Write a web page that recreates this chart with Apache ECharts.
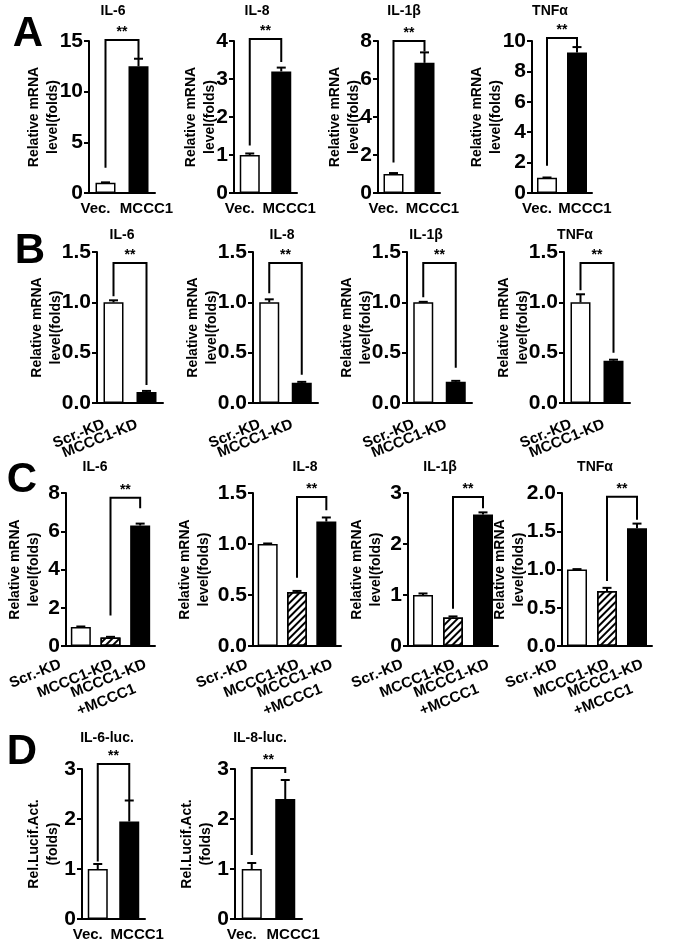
<!DOCTYPE html>
<html><head><meta charset="utf-8">
<script src="https://cdn.jsdelivr.net/npm/echarts@6/dist/echarts.min.js"></script>
<style>html,body{margin:0;padding:0;background:#fff}#c{width:685px;height:942px}</style>
</head><body><div id="c"></div>
<script>
// ---------------- DATA ----------------
const cytokines = ['IL-6', 'IL-8', 'IL-1β', 'TNFα'];
const lucTitles = ['IL-6-luc.', 'IL-8-luc.'];
const panelLetters = ['A', 'B', 'C', 'D'];
const mrnaName = 'Relative mRNA\nlevel(folds)';
const lucName = 'Rel.Lucif.Act.\n(folds)';
const sigText = '**';

const aCategories = ['Vec.', 'MCCC1'];
const aMeans = [[1, 12.5], [1, 3.2], [1, 6.85], [1, 9.25]];
const aErrors = [[0.05, 0.75], [0.04, 0.1], [0.05, 0.55], [0.02, 0.35]];
const aYMax = [15, 4, 8, 10];
const aYStep = [5, 1, 2, 2];
const aBrackets = [[15.1, 2.5, 13.2], [4.05, 1.25, 3.45], [8.0, 1.6, 7.45], [10.2, 1.8, 9.6]];

const bCategories = ['Scr.-KD', 'MCCC1-KD'];
const bMeans = [[1, 0.11], [1, 0.2], [1, 0.21], [1, 0.42]];
const bErrors = [[0.02, 0.01], [0.03, 0.01], [0.005, 0.01], [0.08, 0.01]];
const bYMax = [1.5, 1.5, 1.5, 1.5];
const bYStep = [0.5, 0.5, 0.5, 0.5];
const bBrackets = [[1.39, 1.06, 0.18], [1.39, 1.09, 0.28], [1.39, 1.05, 0.35], [1.39, 1.12, 0.5]];

const cCategories = ['Scr.-KD', 'MCCC1-KD', 'MCCC1-KD\n+MCCC1'];
const cMeans = [[1, 0.45, 6.3], [1, 0.53, 1.22], [1, 0.56, 2.58], [1, 0.72, 1.54]];
const cErrors = [[0.02, 0.03, 0.1], [0.005, 0.01, 0.04], [0.03, 0.02, 0.04], [0.005, 0.04, 0.06]];
const cYMax = [8, 1.5, 3, 2];
const cYStep = [2, 0.5, 1, 0.5];
const cBrackets = [[7.75, 1.6, 7.2], [1.46, 0.67, 1.33], [2.92, 0.73, 2.7], [1.95, 0.85, 1.65]];

const dCategories = ['Vec.', 'MCCC1'];
const dMeans = [[1, 1.95], [1, 2.4]];
const dErrors = [[0.1, 0.42], [0.12, 0.38]];
const dYMax = [3, 3];
const dYStep = [1, 1];
const dBrackets = [[3.1, 1.15, 2.38], [3.02, 1.28, 2.92]];

// ---------------- LAYOUT / STYLE ----------------
const FONT = "'Liberation Sans', Arial, Helvetica, sans-serif";
const ROT = 22 * Math.PI / 180;
const rows = [
  { titles: cytokines, cats: aCategories, means: aMeans, errs: aErrors, ymax: aYMax, ystep: aYStep, br: aBrackets, pair: [0, 1], name: mrnaName, gapAdd: [3, 3, 3, 3],
    top: 41, height: 152, lefts: [89, 234, 378, 532], widths: [66, 63, 62, 60], titleY: 11, titleX: [113, 257, 404, 550], letter: [28, 34], labelMode: 'flat' },
  { titles: cytokines, cats: bCategories, means: bMeans, errs: bErrors, ymax: bYMax, ystep: bYStep, br: bBrackets, pair: [0, 1], name: mrnaName, gapAdd: [2, 2, 2, 2],
    top: 252, height: 151, lefts: [97, 253, 407, 564], widths: [66, 65, 65, 66], titleY: 235, titleX: [122, 282, 426, 575], letter: [30, 251], labelMode: 'rot', ldx: [-13, -13], ldy: 12 },
  { titles: cytokines, cats: cCategories, means: cMeans, errs: cErrors, ymax: cYMax, ystep: cYStep, br: cBrackets, pair: [1, 2], name: mrnaName, gapAdd: [11, 10, 11, 4],
    top: 493, height: 153, lefts: [66, 253, 408, 562], widths: [89, 88, 90, 90], titleY: 467, titleX: [95, 305, 440, 595], letter: [22, 480], labelMode: 'rot', ldx: [-24, -2, 2], ldy: 9 },
  { titles: lucTitles, cats: dCategories, means: dMeans, errs: dErrors, ymax: dYMax, ystep: dYStep, br: dBrackets, pair: [0, 1], name: lucName, gapAdd: [8, 8],
    top: 769, height: 150, lefts: [82, 235], widths: [63, 67], titleY: 738, titleX: [107, 260], letter: [22, 752], labelMode: 'flat' }
];

const measureCtx = document.createElement('canvas').getContext('2d');
function textW(t, font) { measureCtx.font = font; return measureCtx.measureText(t).width; }
const tickFont = 'bold 21px ' + FONT;
const catFont = 'bold 15px ' + FONT;

const grid = [], xAxis = [], yAxis = [], series = [], graphic = [];
const rotLabelJobs = [];

function barStyle(nCats, j) {
  if (j === nCats - 1) return { color: '#000', borderColor: '#000', borderWidth: 1.5 };
  if (nCats === 3 && j === 1) return {
    color: '#fff', borderColor: '#000', borderWidth: 1.5,
    decal: { symbol: 'rect', symbolSize: 1, color: '#000', dashArrayX: [1, 0], dashArrayY: [1.3, 2.4], rotation: -Math.PI / 4 }
  };
  return { color: '#fff', borderColor: '#000', borderWidth: 1.5 };
}

let gi = 0;
rows.forEach((r, ri) => {
  graphic.push({ type: 'text', x: r.letter[0], y: r.letter[1], style: { text: panelLetters[ri], font: 'bold 42px ' + FONT, fill: '#000', align: 'center', verticalAlign: 'middle' } });
  r.titles.forEach((t, p) => {
    graphic.push({ type: 'text', x: r.titleX[p], y: r.titleY, style: { text: t, font: 'bold 14px ' + FONT, fill: '#000', align: 'center', verticalAlign: 'middle' } });
    grid.push({ left: r.lefts[p], top: r.top, width: r.widths[p], height: r.height, containLabel: false });
    const step = r.ystep[p];
    const dec = step < 1 ? 1 : 0;
    let maxW = 0;
    for (let v = 0; v <= r.ymax[p] + 1e-9; v += step) maxW = Math.max(maxW, textW(v.toFixed(dec), tickFont));
    yAxis.push({
      gridIndex: gi, type: 'value', min: 0, max: r.ymax[p], interval: step,
      name: r.name, nameLocation: 'middle', nameRotate: 90, nameGap: maxW + r.gapAdd[p], nameMoveOverlap: false,
      nameTextStyle: { fontFamily: FONT, fontWeight: 'bold', fontSize: 14, lineHeight: 19, color: '#000' },
      axisLine: { show: true, lineStyle: { color: '#000', width: 2 } },
      axisTick: { show: true, length: 5, lineStyle: { color: '#000', width: 2 } },
      axisLabel: { fontFamily: FONT, fontWeight: 'bold', fontSize: 21, color: '#000', margin: 6, formatter: v => v.toFixed(dec) },
      splitLine: { show: false }
    });
    const xa = {
      gridIndex: gi, type: 'category', data: r.cats,
      axisLine: { show: true, lineStyle: { color: '#000', width: 2 } },
      axisTick: { show: false },
      axisLabel: { fontFamily: FONT, fontWeight: 'bold', fontSize: 15, color: '#000', interval: 0 }
    };
    if (r.labelMode === 'flat') {
      xa.axisLabel.margin = 8;
      xa.axisLabel.formatter = (v, i) => i === 0 ? '{l|' + v + '}' : '{r|' + v + '}';
      xa.axisLabel.rich = {
        l: { fontFamily: FONT, fontWeight: 'bold', fontSize: 15, color: '#000', padding: [0, 20, 0, 0] },
        r: { fontFamily: FONT, fontWeight: 'bold', fontSize: 15, color: '#000', padding: [0, 0, 0, 16] }
      };
    } else {
      xa.axisLabel.show = false;
      rotLabelJobs.push({ gi, cats: r.cats, ldx: r.ldx, ldy: r.ldy });
    }
    xAxis.push(xa);
    const n = r.cats.length;
    series.push({
      type: 'bar', xAxisIndex: gi, yAxisIndex: gi, barWidth: 20, silent: true, animation: false,
      data: r.means[p].map((m, j) => ({ value: m, itemStyle: barStyle(n, j) }))
    });
    series.push({
      type: 'custom', xAxisIndex: gi, yAxisIndex: gi, silent: true, animation: false, z: 3,
      encode: { x: 0, y: 1 },
      data: r.means[p].map((m, j) => [j, m, r.errs[p][j]]),
      renderItem: (params, api) => {
        const x = api.value(0), m = api.value(1), e = api.value(2);
        const p0 = api.coord([x, m]), p1 = api.coord([x, m + e]);
        return { type: 'group', children: [
          { type: 'line', shape: { x1: p0[0], y1: p0[1], x2: p1[0], y2: p1[1] }, style: { stroke: '#000', lineWidth: 2 } },
          { type: 'line', shape: { x1: p1[0] - 4.5, y1: p1[1], x2: p1[0] + 4.5, y2: p1[1] }, style: { stroke: '#000', lineWidth: 2 } }
        ] };
      }
    });
    const b = r.br[p];
    series.push({
      type: 'custom', xAxisIndex: gi, yAxisIndex: gi, silent: true, animation: false, z: 4,
      encode: { x: 0, y: 2 },
      data: [[r.pair[0], r.pair[1], b[0], b[1], b[2]]],
      renderItem: (params, api) => {
        const i1 = api.value(0), i2 = api.value(1);
        const tl = api.coord([i1, api.value(2)]), tr = api.coord([i2, api.value(2)]);
        const bl = api.coord([i1, api.value(3)]), brr = api.coord([i2, api.value(4)]);
        return { type: 'group', children: [
          { type: 'polyline', shape: { points: [bl, tl, tr, brr] }, style: { stroke: '#000', lineWidth: 2, fill: null } },
          { type: 'text', x: (tl[0] + tr[0]) / 2, y: tl[1] - 1, style: { text: sigText, font: 'bold 14px ' + FONT, fill: '#000', align: 'center', verticalAlign: 'bottom' } }
        ] };
      }
    });
    gi++;
  });
});

const chart = echarts.init(document.getElementById('c'), null, { renderer: 'canvas' });
chart.setOption({ backgroundColor: '#fff', animation: false, grid, xAxis, yAxis, series, graphic });

// rotated category labels, anchored at each category's pixel position on its axis
const richCat = {
  m: { font: catFont, fill: '#000', lineHeight: 19 },
  s: { font: catFont, fill: '#000', lineHeight: 19, padding: [0, 20, 0, 0] }
};
rotLabelJobs.forEach(job => {
  job.cats.forEach((c, j) => {
    const px = chart.convertToPixel({ gridIndex: job.gi }, [j, 0]);
    const lines = c.split('\n');
    const L = textW(lines[0], catFont);
    const ax = px[0] + job.ldx[j], ay = px[1] + job.ldy;
    const txt = lines.length > 1 ? '{m|' + lines[0] + '}\n{s|' + lines[1] + '}' : '{m|' + lines[0] + '}';
    graphic.push({
      type: 'text', x: ax - (L / 2) * Math.cos(ROT), y: ay + (L / 2) * Math.sin(ROT), rotation: ROT,
      style: { text: txt, rich: richCat, font: catFont, fill: '#000', align: 'center', verticalAlign: 'top' }
    });
  });
});
chart.setOption({ graphic });
</script></body></html>
